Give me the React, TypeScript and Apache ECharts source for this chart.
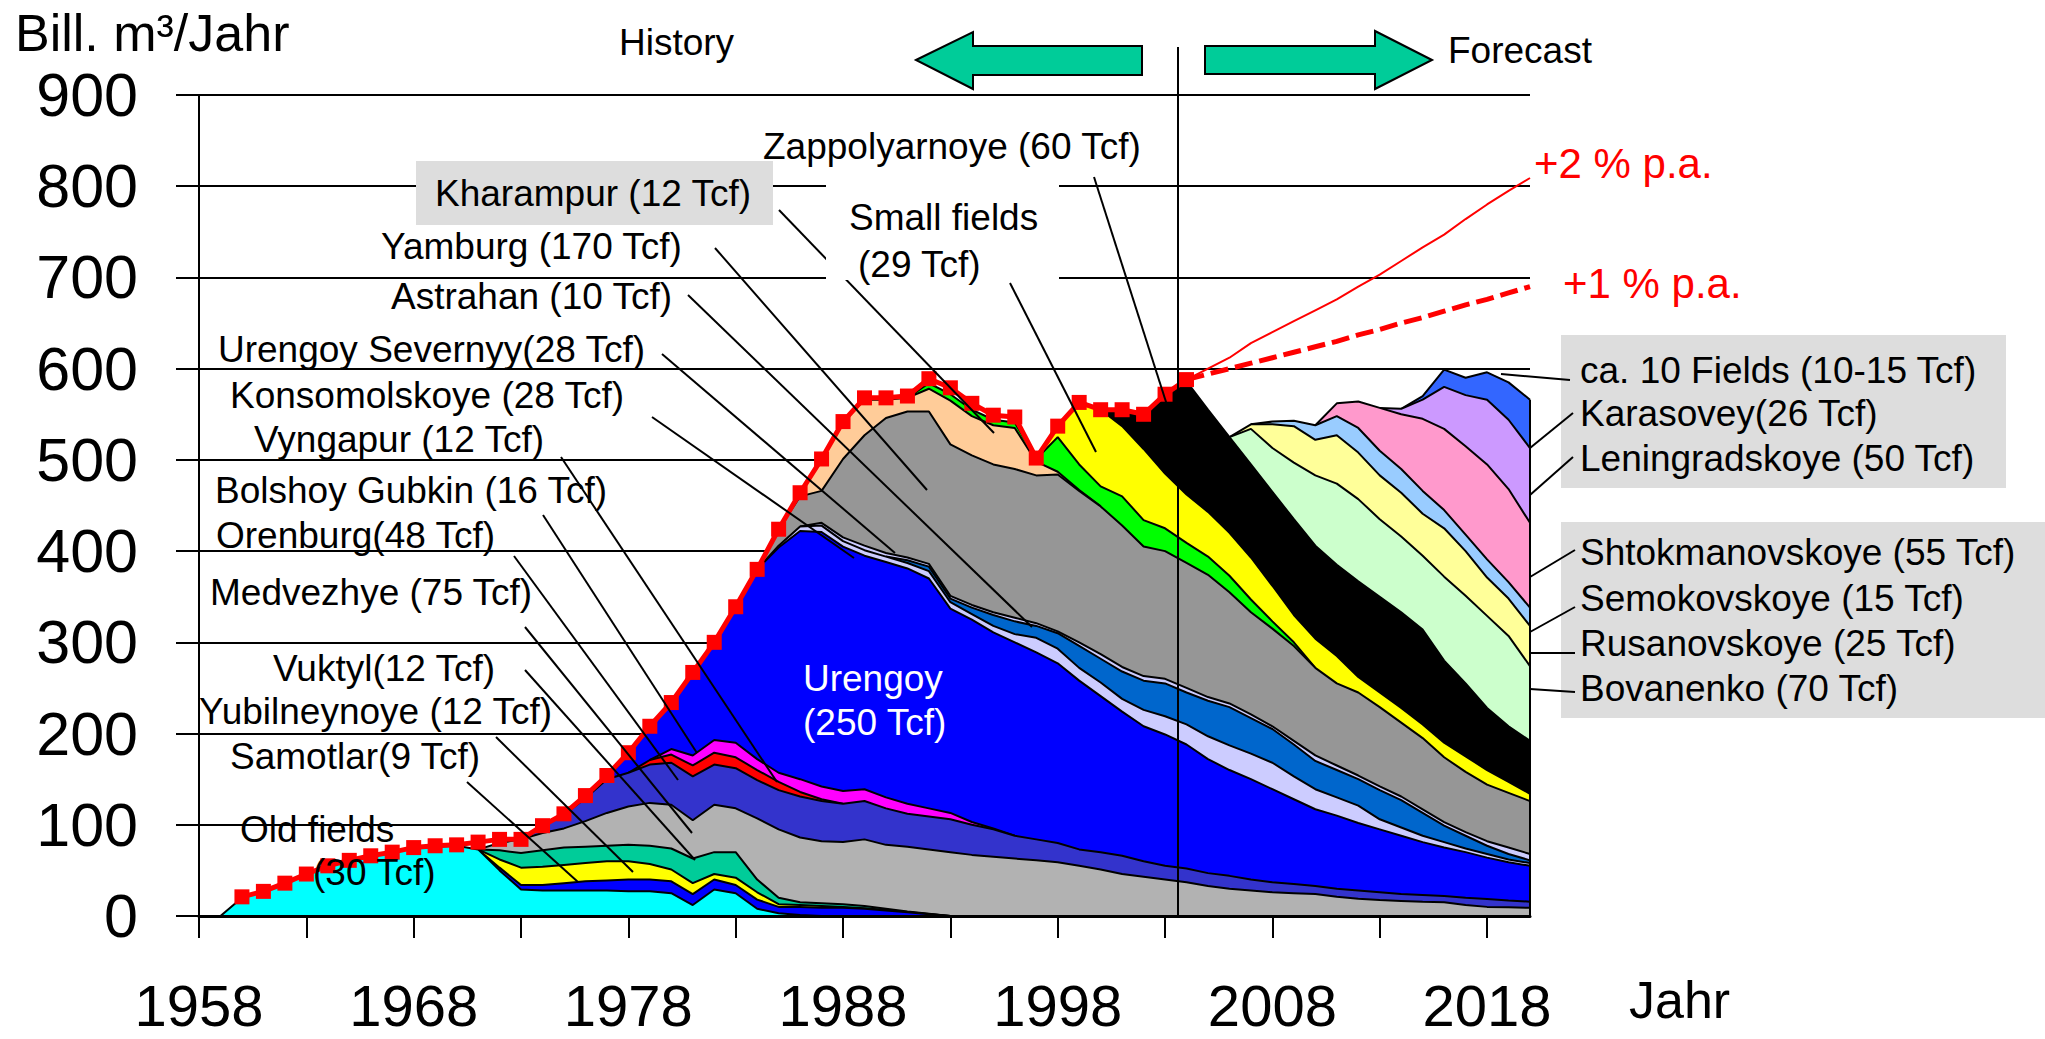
import React, { useEffect, useRef } from "react";
import * as echarts from "echarts";

// ---------- categories ----------
const FIRST_YEAR = 1958;
const LAST_YEAR = 2020;
const years: string[] = [];
for (let y = FIRST_YEAR; y <= LAST_YEAR; y++) years.push(String(y));

// ---------- field production (Bill. m³/Jahr), each array starts at its start year ----------
const oldFieldsStart = 1959;
const oldFields = [0, 20, 27, 36, 46, 55, 61, 66, 70, 74, 76, 77, 73, 50, 29, 28, 28, 28, 28, 27, 27, 25, 12, 29, 25, 8, 3, 1, 0];
const samotlarStart = 1971;
const samotlar = [0, 3, 5, 6, 8, 10, 11, 13, 13, 13, 12, 11, 9, 10, 7, 9, 9, 9, 8, 6, 4, 2, 0];
const yubilneynoyeStart = 1971;
const yubilneynoye = [0, 9, 19, 20, 20, 20, 21, 20, 17, 13, 12, 6, 8, 8, 3, 2, 2, 1, 0.5, 0.5, 0.5, 0.2, 0];
const vuktylStart = 1971;
const vuktyl = [0, 10, 16, 18, 19, 18, 17, 18, 20, 23, 27, 24, 28, 14, 7, 3, 3, 3, 2.5, 1.5, 0.5, 0.3, 0];
const medvezhyeStart = 1971;
const medvezhye = [0, 8, 15, 19, 21, 28, 36, 42, 47, 48, 42, 52, 48, 67, 75, 71, 68, 68, 73, 70, 71, 70.5, 70, 67, 65, 63, 61, 59, 55, 51, 46, 43, 40, 37, 33, 30, 28, 26, 25, 24, 21, 19, 17.5, 16.5, 15.5, 15, 12, 10, 9.5, 9];
const orenburgStart = 1973;
const orenburg = [0, 7, 15, 25, 37, 37, 42, 46, 48, 44, 44, 42, 43, 45, 44, 42, 42, 40, 36, 36, 36, 33, 30, 25, 23, 21, 18, 19, 20, 17, 15, 15, 14, 14, 12, 11, 10, 9, 9, 9, 8.5, 7.5, 7.5, 7, 8, 8.6, 7.5, 6.7];
const vyngapurStart = 1978;
const vyngapur = [0, 5, 9, 12, 13, 12, 11, 9, 5, 2, 0];
const bolshoyGubkinStart = 1979;
const bolshoyGubkin = [0, 6, 11, 14, 16, 12, 10, 14, 14, 14, 13, 12, 11, 9, 7, 3, 1, 0];
const urengoyStart = 1977;
const urengoy = [0, 22, 37, 51, 88, 107, 149, 208, 247, 272, 279, 268, 256, 258, 258, 252, 224, 222, 215, 212, 205, 197, 185, 171, 158, 148, 144, 136, 125, 116, 110, 102, 93, 84, 80, 74, 69, 64, 58, 53, 50, 45.4, 42, 39.3];
const konsomolskoyeStart = 1984;
const konsomolskoye = [0, 2, 5, 7, 6, 6, 6, 6, 8, 7, 6, 7, 9, 16, 16, 14, 15, 14, 18, 20, 22, 25, 27, 28, 29, 25, 22, 20, 19, 11, 9, 7, 6, 4, 4, 3, 3];
const urengoySevernyyStart = 1990;
const urengoySevernyy = [0, 3, 5, 4, 7, 12, 14, 13, 17, 24, 26, 30, 32, 36, 35, 39, 42, 39, 37, 35, 31, 30, 29, 32, 30, 25, 18, 14, 9, 6, 3];
const astrahanStart = 1986;
const astrahan = [0, 3, 4, 5, 4, 3, 3, 3, 3, 3, 4, 3, 2, 4, 5, 5, 5, 5, 5, 4, 4, 4, 3, 4, 6, 5, 4, 4, 4, 4, 4, 4, 5, 7, 7];
const yamburgStart = 1984;
const yamburg = [0, 18, 33, 35, 86, 121, 148, 160, 167, 166, 164, 162, 163, 162, 172, 166, 162, 155, 142, 140, 137, 134, 122, 112, 107, 104, 96, 90, 91, 87, 81, 78, 71, 66, 62, 60, 58];
const kharampurStart = 1985;
const kharampur = [0, 4, 35, 41, 39, 20, 15, 25, 48, 43, 43, 45, 15, 3, 1, 0];
const otherSmallStart = 1991;
const otherSmall = [0, 6, 7, 7, 6, 6, 3, 38, 28, 22, 32, 29, 25, 22, 20, 18, 14, 8, 4, 0];
const smallFieldsStart = 1997;
const smallFields = [0, 12, 68, 84, 77, 78, 60, 53, 49, 47, 46, 39, 30, 32, 30, 17, 16, 16, 15, 16, 17, 16, 12, 8];
const zappolyarnoyeStart = 2000;
const zappolyarnoye = [0, 18, 38, 87, 124, 112, 105, 102, 103, 105, 102, 100, 105, 105, 105, 104, 90, 80, 68, 61, 58];
const bovanenkoStart = 2006;
const bovanenko = [0, 39, 48, 62, 77, 89, 90, 85, 83, 81, 92, 96, 101, 99, 82];
const rusanovskoyeStart = 2006;
const rusanovskoye = [0, 5, 26, 40, 39, 53, 51, 48, 48, 46, 53, 49, 42, 41, 44];
const semokovskoyeStart = 2007;
const semokovskoye = [0, 3, 6, 16, 21, 27, 27, 26, 25, 20, 18, 20, 18, 20];
const shtokmanovskoyeStart = 2010;
const shtokmanovskoye = [0, 14, 29, 47, 60, 79, 89, 97, 104, 102, 93];
const leningradskoyeStart = 2013;
const leningradskoye = [0, 6, 21, 46, 56, 71, 76, 82];
const karasoveyStart = 2014;
const karasovey = [0, 4, 19, 19, 30, 41, 53];

// total production (history) and growth scenarios
const totalStart = 1960;
const totalProduction = [21, 27, 36, 46, 55, 61, 66, 70, 75, 77, 78, 81, 84, 84, 99, 112, 132, 154, 179, 208, 234, 267, 300, 339, 380, 424, 464, 501, 542, 568, 568, 570, 589, 579, 562, 549, 547, 502, 537, 563, 555, 555, 550, 572, 588];
const scenarioStart = 2004;
const growth2pct = [588, 600, 612, 628, 640, 652, 664, 676, 690, 703, 718, 733, 747, 764, 780, 795, 809];
const growth1pct = [588, 594, 600, 606, 612, 618, 624, 630, 637, 643, 650, 656, 663, 670, 676, 683, 690];

const yTicks = [0, 100, 200, 300, 400, 500, 600, 700, 800, 900];

const fields = [
  { name: "Old fields (30 Tcf)", start: oldFieldsStart, values: oldFields, color: "#00FFFF" },
  { name: "Samotlar (9 Tcf)", start: samotlarStart, values: samotlar, color: "#0000FF" },
  { name: "Yubilneynoye (12 Tcf)", start: yubilneynoyeStart, values: yubilneynoye, color: "#FFFF00" },
  { name: "Vuktyl (12 Tcf)", start: vuktylStart, values: vuktyl, color: "#00CC99" },
  { name: "Medvezhye (75 Tcf)", start: medvezhyeStart, values: medvezhye, color: "#B2B2B2" },
  { name: "Orenburg (48 Tcf)", start: orenburgStart, values: orenburg, color: "#3333CC" },
  { name: "Vyngapur (12 Tcf)", start: vyngapurStart, values: vyngapur, color: "#FF0000" },
  { name: "Bolshoy Gubkin (16 Tcf)", start: bolshoyGubkinStart, values: bolshoyGubkin, color: "#FF00FF" },
  { name: "Urengoy (250 Tcf)", start: urengoyStart, values: urengoy, color: "#0000FF" },
  { name: "Konsomolskoye (28 Tcf)", start: konsomolskoyeStart, values: konsomolskoye, color: "#CCCCFF" },
  { name: "Urengoy Severnyy (28 Tcf)", start: urengoySevernyyStart, values: urengoySevernyy, color: "#0066CC" },
  { name: "Astrahan (10 Tcf)", start: astrahanStart, values: astrahan, color: "#CCCCFF" },
  { name: "Yamburg (170 Tcf)", start: yamburgStart, values: yamburg, color: "#969696" },
  { name: "Kharampur (12 Tcf)", start: kharampurStart, values: kharampur, color: "#FFCC99" },
  { name: "Other small fields", start: otherSmallStart, values: otherSmall, color: "#00FF00" },
  { name: "Small fields (29 Tcf)", start: smallFieldsStart, values: smallFields, color: "#FFFF00" },
  { name: "Zappolyarnoye (60 Tcf)", start: zappolyarnoyeStart, values: zappolyarnoye, color: "#000000" },
  { name: "Bovanenko (70 Tcf)", start: bovanenkoStart, values: bovanenko, color: "#CCFFCC" },
  { name: "Rusanovskoye (25 Tcf)", start: rusanovskoyeStart, values: rusanovskoye, color: "#FFFF99" },
  { name: "Semokovskoye (15 Tcf)", start: semokovskoyeStart, values: semokovskoye, color: "#99CCFF" },
  { name: "Shtokmanovskoye (55 Tcf)", start: shtokmanovskoyeStart, values: shtokmanovskoye, color: "#FF99CC" },
  { name: "Leningradskoye (50 Tcf)", start: leningradskoyeStart, values: leningradskoye, color: "#CC99FF" },
  { name: "Karasovey (26 Tcf)", start: karasoveyStart, values: karasovey, color: "#3366FF" },
];

function fromYear(start: number, values: number[]): (number | null)[] {
  return years.map((y) => {
    const i = Number(y) - start;
    return i >= 0 && i < values.length ? values[i] : null;
  });
}

const FONT = '"Liberation Sans", Arial, Helvetica, sans-serif';

function txt(text: string, x: number, y: number, size = 37, fill = "#000") {
  return {
    type: "text",
    x,
    y,
    z: 100,
    silent: true,
    style: { text, fill, fontSize: size, fontFamily: FONT, align: "left", verticalAlign: "middle" },
  };
}
function seg(x1: number, y1: number, x2: number, y2: number, w = 2) {
  return { type: "line", z: 95, silent: true, shape: { x1, y1, x2, y2 }, style: { stroke: "#000", lineWidth: w } };
}
function box(x: number, y: number, w: number, h: number, fill: string, z = 90) {
  return { type: "rect", z, silent: true, shape: { x, y, width: w, height: h }, style: { fill } };
}

export default function App() {
  const ref = useRef<HTMLDivElement>(null);

  useEffect(() => {
    document.body.style.margin = "0";
    document.body.style.overflow = "hidden";
    const chart = echarts.init(ref.current!, null, { renderer: "svg" });

    const N = fields.length;
    const areaSeries = fields.map((f, i) => ({
      name: f.name,
      type: "line",
      stack: "fields",
      data: fromYear(f.start, f.values),
      symbol: "none",
      showSymbol: false,
      silent: true,
      connectNulls: false,
      lineStyle: { color: "#000", width: 2 },
      areaStyle: { color: f.color, opacity: 1 },
      z: 2 + (N - i),
      emphasis: { disabled: true },
    }));

    const option: any = {
      animation: false,
      backgroundColor: "#fff",
      textStyle: { fontFamily: FONT },
      grid: { left: 199, top: 95, width: 1331, height: 821, containLabel: false },
      xAxis: {
        type: "category",
        data: years,
        boundaryGap: false,
        z: 30,
        axisLine: { lineStyle: { color: "#000", width: 3 } },
        axisTick: { show: true, interval: 4, length: 22, lineStyle: { color: "#000", width: 2 } },
        axisLabel: {
          interval: 9,
          fontSize: 58,
          lineHeight: 46,
          color: "#000",
          margin: 66,
          fontFamily: FONT,
        },
        splitLine: { show: false },
      },
      yAxis: {
        type: "value",
        min: yTicks[0],
        max: yTicks[yTicks.length - 1],
        interval: 100,
        axisLine: { show: true, lineStyle: { color: "#000", width: 2 } },
        axisTick: { show: true, length: 23, lineStyle: { color: "#000", width: 2 } },
        axisLabel: { fontSize: 61, color: "#000", margin: 61, fontFamily: FONT },
        splitLine: { show: true, lineStyle: { color: "#000", width: 2 } },
      },
      series: [
        ...areaSeries,
        {
          name: "Total",
          type: "line",
          data: fromYear(totalStart, totalProduction),
          symbol: "rect",
          symbolSize: 15,
          showAllSymbol: true,
          silent: true,
          lineStyle: { color: "#FF0000", width: 5 },
          itemStyle: { color: "#FF0000" },
          z: 50,
        },
        {
          name: "+2 % p.a.",
          type: "line",
          data: fromYear(scenarioStart, growth2pct),
          symbol: "none",
          silent: true,
          lineStyle: { color: "#FF0000", width: 2 },
          z: 49,
        },
        {
          name: "+1 % p.a.",
          type: "line",
          data: fromYear(scenarioStart, growth1pct),
          symbol: "none",
          silent: true,
          lineStyle: { color: "#FF0000", width: 5, type: [18, 7] },
          z: 49,
        },
      ],
    };
    chart.setOption(option);

    // right-hand closing edge of the stacked areas
    const lastIdx = years.length - 1;
    let topLast = 0;
    fields.forEach((f) => {
      const v = fromYear(f.start, f.values)[lastIdx];
      if (v != null) topLast += v;
    });
    const pTop = chart.convertToPixel({ gridIndex: 0 } as any, [lastIdx, topLast]) as number[];
    const pBot = chart.convertToPixel({ gridIndex: 0 } as any, [lastIdx, 0]) as number[];

    const graphics: any[] = [
      // edge
      { type: "line", z: 45, silent: true, shape: { x1: pTop[0], y1: pTop[1], x2: pBot[0], y2: pBot[1] }, style: { stroke: "#000", lineWidth: 2 } },
      // history / forecast divider
      seg(1178, 47, 1178, 916, 2),
      // arrows
      {
        type: "polygon",
        z: 95,
        silent: true,
        shape: { points: [[916, 60], [973, 32], [973, 46], [1142, 46], [1142, 75], [973, 75], [973, 89]] },
        style: { fill: "#00CC99", stroke: "#000", lineWidth: 2 },
      },
      {
        type: "polygon",
        z: 95,
        silent: true,
        shape: { points: [[1432, 60], [1375, 31], [1375, 46], [1205, 46], [1205, 74], [1375, 74], [1375, 89]] },
        style: { fill: "#00CC99", stroke: "#000", lineWidth: 2 },
      },
      // label boxes
      box(416, 161, 357, 64, "#DDDDDD"),
      box(1561, 335, 445, 153, "#DDDDDD"),
      box(1561, 522, 484, 196, "#DDDDDD"),
      box(826, 168, 233, 112, "#FFFFFF", 97),
      // leader lines
      seg(1094, 177, 1167, 405),
      seg(779, 210, 994, 433),
      seg(1010, 283, 1096, 452),
      seg(715, 248, 927, 490),
      seg(688, 295, 1032, 627),
      seg(662, 354, 895, 553),
      seg(652, 417, 854, 558),
      seg(561, 457, 777, 782),
      seg(543, 515, 697, 753),
      seg(514, 556, 678, 780),
      seg(525, 627, 692, 833),
      seg(525, 670, 695, 860),
      seg(496, 737, 633, 872),
      seg(467, 782, 578, 882),
      seg(1570, 380, 1501, 374),
      seg(1573, 413, 1530, 448),
      seg(1573, 457, 1530, 495),
      seg(1575, 550, 1530, 577),
      seg(1575, 607, 1530, 632),
      seg(1575, 653, 1530, 653),
      seg(1575, 692, 1530, 689),
      // texts
      txt("Bill. m³/Jahr", 15, 33, 52),
      txt("History", 619, 42),
      txt("Forecast", 1448, 50),
      txt("Zappolyarnoye (60 Tcf)", 763, 146),
      txt("Kharampur (12 Tcf)", 435, 193),
      txt("Small fields", 849, 217),
      txt("(29 Tcf)", 858, 264),
      txt("Yamburg (170 Tcf)", 381, 246),
      txt("Astrahan (10 Tcf)", 391, 296),
      txt("Urengoy Severnyy(28 Tcf)", 218, 349),
      txt("Konsomolskoye (28 Tcf)", 230, 395),
      txt("Vyngapur (12 Tcf)", 254, 439),
      txt("Bolshoy Gubkin (16 Tcf)", 215, 490),
      txt("Orenburg(48 Tcf)", 216, 535),
      txt("Medvezhye (75 Tcf)", 210, 592),
      txt("Vuktyl(12 Tcf)", 273, 668),
      txt("Yubilneynoye (12 Tcf)", 199, 711),
      txt("Samotlar(9 Tcf)", 230, 756),
      txt("Old fields", 240, 829),
      txt("(30 Tcf)", 313, 872),
      txt("Urengoy", 803, 678, 37, "#FFFFFF"),
      txt("(250 Tcf)", 803, 722, 37, "#FFFFFF"),
      txt("+2 % p.a.", 1534, 163, 42, "#FF0000"),
      txt("+1 % p.a.", 1563, 283, 42, "#FF0000"),
      txt("ca. 10 Fields (10-15 Tcf)", 1580, 370),
      txt("Karasovey(26 Tcf)", 1580, 413),
      txt("Leningradskoye (50 Tcf)", 1580, 458),
      txt("Shtokmanovskoye (55 Tcf)", 1580, 552),
      txt("Semokovskoye (15 Tcf)", 1580, 598),
      txt("Rusanovskoye (25 Tcf)", 1580, 643),
      txt("Bovanenko (70 Tcf)", 1580, 688),
      txt("Jahr", 1629, 1000, 52),
    ];
    chart.setOption({ graphic: graphics });

    return () => chart.dispose();
  }, []);

  return <div ref={ref} style={{ width: 2045, height: 1039 }} />;
}
